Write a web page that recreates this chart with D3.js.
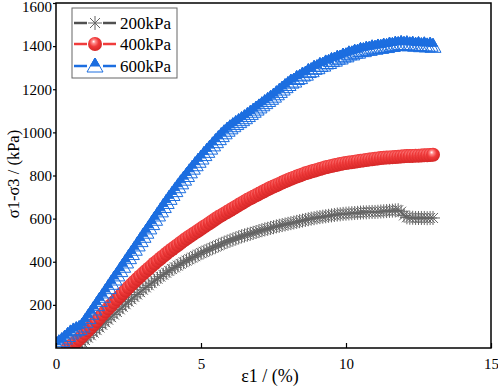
<!DOCTYPE html>
<html lang="en">
<head>
<meta charset="UTF-8">
<title>Stress strain</title>
<style>
  body { margin: 0; background: #fff; }
</style>
</head>
<body>
<script src="https://d3js.org/d3.v7.min.js"></script>
<script>
// axial strain (%) sampled along the curves
const strain = [
  0.0,0.1,0.2,0.3,0.4,0.5,0.6,0.7,0.8,0.9,
  1.0,1.1,1.2,1.3,1.4,1.5,1.6,1.7,1.8,1.9,
  2.0,2.1,2.2,2.3,2.4,2.5,2.6,2.7,2.8,2.9,
  3.0,3.1,3.2,3.3,3.4,3.5,3.6,3.7,3.8,3.9,
  4.0,4.1,4.2,4.3,4.4,4.5,4.6,4.7,4.8,4.9,
  5.0,5.1,5.2,5.3,5.4,5.5,5.6,5.7,5.8,5.9,
  6.0,6.1,6.2,6.3,6.4,6.5,6.6,6.7,6.8,6.9,
  7.0,7.1,7.2,7.3,7.4,7.5,7.6,7.7,7.8,7.9,
  8.0,8.1,8.2,8.3,8.4,8.5,8.6,8.7,8.8,8.9,
  9.0,9.1,9.2,9.3,9.4,9.5,9.6,9.7,9.8,9.9,
  10.0,10.1,10.2,10.3,10.4,10.5,10.6,10.7,10.8,10.9,
  11.0,11.1,11.2,11.3,11.4,11.5,11.6,11.7,11.8,11.9,
  12.0,12.1,12.2,12.3,12.4,12.5,12.6,12.7,12.8,12.9,
  13.0
];

// deviator stress (kPa), 200 kPa confining pressure
const s200 = [
  null,null,null,null,null,null,0,8,17,27,
  37,48,59,71,83,95,107,119,131,143,
  155,167,179,191,203,215,226,237,248,259,
  270,281,291,301,311,321,331,340,349,358,
  366,374,382,390,398,405,412,419,426,433,
  440,446,452,458,464,470,476,482,488,493,
  498,503,508,513,518,522,526,530,534,538,
  542,546,550,553,557,560,564,567,570,573,
  576,579,582,585,588,591,594,597,600,602,
  605,607,609,611,613,615,617,619,620,622,
  623,624,625,626,627,628,629,629,630,631,
  631,632,633,634,635,636,637,638,639,632,
  615,606,604,604,603,603,603,603,602,603,
  603
];

// 400 kPa
const s400 = [
  null,null,null,null,0,9,19,30,42,55,
  68,82,96,110,125,140,155,170,184,198,
  212,226,240,254,267,281,294,307,320,333,
  345,357,369,381,393,404,415,426,437,448,
  458,468,478,488,498,508,517,526,535,544,
  553,562,571,580,589,598,607,615,623,631,
  639,647,655,663,671,679,687,694,701,708,
  715,722,729,736,743,749,755,761,767,773,
  779,785,790,795,800,805,810,814,818,822,
  826,830,834,838,841,844,847,850,853,856,
  858,860,862,864,866,868,870,872,874,875,
  878,879,881,882,883,884,885,886,887,888,
  889,890,890,891,892,892,893,894,894,895,
  896
];

// 600 kPa
const s600 = [
  15,24,34,46,58,70,79,85,90,102,
  122,141,161,181,201,221,240,260,280,300,
  320,339,359,379,399,419,438,458,478,498,
  518,537,557,577,597,617,636,656,675,694,
  712,730,748,766,783,800,817,834,850,866,
  881,897,912,927,942,957,971,985,998,1010,
  1021,1031,1041,1050,1059,1068,1078,1088,1098,1108,
  1118,1128,1138,1148,1158,1168,1179,1190,1201,1212,
  1222,1233,1238,1250,1254,1266,1270,1282,1286,1297,
  1300,1310,1312,1322,1324,1333,1335,1344,1345,1354,
  1355,1364,1364,1372,1372,1380,1379,1386,1385,1392,
  1390,1396,1394,1400,1398,1405,1403,1409,1407,1412,
  1408,1411,1406,1409,1404,1407,1402,1406,1401,1404,
  1399
];

const seriesNames = ["200kPa", "400kPa", "600kPa"];
const xTicks = [0, 5, 10, 15];
const yTicks = [200, 400, 600, 800, 1000, 1200, 1400, 1600];

// layout
const W = 498, H = 391;
const mLeft = 56, mRight = 491, mTop = 3, mBottom = 348;
const serif = "'Liberation Serif', 'Times New Roman', 'DejaVu Serif', serif";

const svg = d3.select("body").append("svg")
    .attr("width", W)
    .attr("height", H)
    .attr("font-family", serif);

const x = d3.scaleLinear().domain([0, 15]).range([mLeft, mRight]);
const y = d3.scaleLinear().domain([0, 1600]).range([mBottom, mTop]);

const defs = svg.append("defs");
defs.append("clipPath").attr("id", "plotclip")
    .append("rect")
    .attr("x", mLeft).attr("y", mTop)
    .attr("width", mRight - mLeft).attr("height", mBottom - mTop);

const grad = defs.append("radialGradient")
    .attr("id", "ball")
    .attr("cx", "0.45").attr("cy", "0.4").attr("r", "0.6")
    .attr("fx", "0.4").attr("fy", "0.32");
grad.append("stop").attr("offset", "0").attr("stop-color", "#ffffff");
grad.append("stop").attr("offset", "0.22").attr("stop-color", "#ff8a8a");
grad.append("stop").attr("offset", "0.55").attr("stop-color", "#f03a3a");
grad.append("stop").attr("offset", "1").attr("stop-color", "#d42626");

const colors = ["#505050", "#f03c3c", "#1c6ee0"];

// marker painters
function drawStar(g) {
    g.append("path")
        .attr("d", "M-7,0H7M0,-7V7M-5,-5L5,5M-5,5L5,-5")
        .attr("stroke", "#666")
        .attr("stroke-width", 1)
        .attr("fill", "none");
}
function drawBall(g) {
    g.append("circle")
        .attr("r", 7)
        .attr("fill", "url(#ball)");
}
function drawTri(g, solid) {
    g.append("path")
        .attr("d", "M0,-8L8,6L-8,6Z")
        .attr("fill", solid ? "#fff" : "none")
        .attr("stroke", colors[2])
        .attr("stroke-width", 1);
    g.append("path")
        .attr("d", "M0,-8L4.6,0L-4.6,0Z")
        .attr("fill", colors[2])
        .attr("stroke", colors[2])
        .attr("stroke-width", 1);
}
const painters = [drawStar, drawBall, drawTri];

const plot = svg.append("g").attr("clip-path", "url(#plotclip)");

[s200, s400, s600].forEach(function (vals, i) {
    const pts = strain.map((e, k) => ({e: e, v: vals[k]})).filter(d => d.v !== null);
    const line = d3.line()
        .x(d => x(d.e))
        .y(d => y(d.v));
    plot.append("path")
        .datum(pts)
        .attr("fill", "none")
        .attr("stroke", i === 0 ? "#333" : colors[i])
        .attr("stroke-width", 1.5)
        .attr("d", line);
    plot.append("g")
        .selectAll("g")
        .data(pts)
        .enter()
        .append("g")
        .attr("transform", d => "translate(" + x(d.e) + "," + y(d.v) + ")")
        .each(function () { painters[i](d3.select(this), false); });
});

// axes
const xAxis = svg.append("g")
    .attr("transform", "translate(0," + mBottom + ")")
    .call(d3.axisBottom(x).tickValues(xTicks).tickFormat(d3.format("d"))
        .tickSizeInner(-5).tickSizeOuter(0).tickPadding(10));
const yAxis = svg.append("g")
    .attr("transform", "translate(" + mLeft + ",0)")
    .call(d3.axisLeft(y).tickValues(yTicks).tickFormat(d3.format("d"))
        .tickSizeInner(3).tickSizeOuter(0).tickPadding(1));
[xAxis, yAxis].forEach(function (a) {
    a.attr("font-family", serif).attr("font-size", 15);
    a.select(".domain").remove();
    a.selectAll("line").attr("stroke", "#000").attr("stroke-width", 1.2);
    a.selectAll("text").attr("fill", "#000");
});
// top label sits against the window edge, nudge it down so it stays whole
yAxis.selectAll(".tick")
    .filter(d => d === 1600)
    .select("text")
    .attr("dy", "0.55em");

// frame
svg.append("rect")
    .attr("x", mLeft).attr("y", mTop)
    .attr("width", mRight - mLeft).attr("height", mBottom - mTop)
    .attr("fill", "none")
    .attr("stroke", "#000")
    .attr("stroke-width", 1.5);

// axis titles
svg.append("text")
    .attr("x", 270).attr("y", 382)
    .attr("text-anchor", "middle")
    .attr("font-size", 18)
    .text("ε1 / (%)");
svg.append("text")
    .attr("transform", "translate(19,174) rotate(-90)")
    .attr("text-anchor", "middle")
    .attr("font-size", 16.5)
    .text("σ1-σ3 / (kPa)");

// legend
const legend = svg.append("g");
legend.append("rect")
    .attr("x", 72).attr("y", 8)
    .attr("width", 105).attr("height", 70)
    .attr("fill", "#fff")
    .attr("stroke", "#666")
    .attr("stroke-width", 1);
const rowY = [23, 44, 66];
seriesNames.forEach(function (name, i) {
    const row = legend.append("g").attr("transform", "translate(0," + rowY[i] + ")");
    [[74, 87], [103, 116]].forEach(function (seg) {
        row.append("line")
            .attr("x1", seg[0]).attr("x2", seg[1])
            .attr("stroke", colors[i])
            .attr("stroke-width", 2.5);
    });
    const m = row.append("g").attr("transform", "translate(95,0)");
    painters[i](m, true);
    row.append("text")
        .attr("x", 120).attr("y", 6)
        .attr("font-size", 17)
        .text(name);
});
</script>
</body>
</html>
